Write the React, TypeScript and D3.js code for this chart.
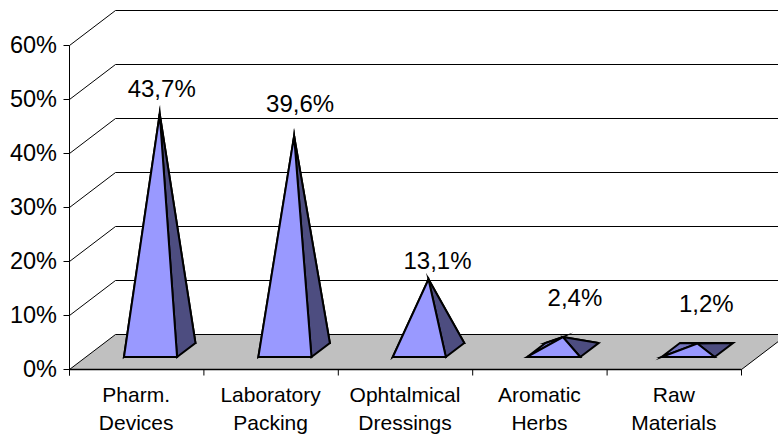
import React from "react";
import * as d3 from "d3";

const categories = [["Pharm.", "Devices"], ["Laboratory", "Packing"], ["Ophtalmical", "Dressings"], ["Aromatic", "Herbs"], ["Raw", "Materials"]];
const shares = [43.7, 39.6, 13.1, 2.4, 1.2];
const shareLabels = ["43,7%", "39,6%", "13,1%", "2,4%", "1,2%"];
const axisTicks = [0, 10, 20, 30, 40, 50, 60];

const W = 778, H = 438;
const DX = 46, DY = 35; // oblique projection of the chart depth
const x = d3.scaleBand<number>().domain(d3.range(categories.length)).range([69, 741]);
const y = d3.scaleLinear().domain([0, 60]).range([369, 45]);
const DEPTH_NEAR = 0.343, DEPTH_FAR = 0.743;
// Hand placement of the value labels relative to each apex
const LABEL_RISE = [27, 34, 20, 41, 42];
const LABEL_SHIFT = [0, 4, 7, 10, 7];

type P = [number, number];
const poly = (pts: P[]) => pts.map(p => p.join(",")).join(" ");
const project = (px: number, h: number, depth: number): P => [px + DX * depth, y(h) - DY * depth];

const LIGHT = "#9999ff", DARK = "#4d4d80", MID = "#7373bf";
const font = "'Liberation Sans', Arial, sans-serif";

function Pyramid({ i }: { i: number }) {
  const x0 = x(i)! + x.bandwidth() * 0.2916;
  const x1 = x0 + x.bandwidth() * 0.395;
  const fl = project(x0, 0, DEPTH_NEAR), fr = project(x1, 0, DEPTH_NEAR);
  const bl = project(x0, 0, DEPTH_FAR), br = project(x1, 0, DEPTH_FAR);
  const apex = project((x0 + x1) / 2, shares[i], (DEPTH_NEAR + DEPTH_FAR) / 2);
  const stroke = { stroke: "#000", strokeWidth: 2, strokeLinejoin: "miter" as const, strokeMiterlimit: 12 };
  return (
    <g>
      <polygon points={poly([bl, br, apex])} fill={DARK} {...stroke} />
      <polygon points={poly([fl, bl, apex])} fill={MID} {...stroke} />
      <polygon points={poly([fr, br, apex])} fill={DARK} {...stroke} />
      <polygon points={poly([fl, fr, apex])} fill={LIGHT} {...stroke} />
      <text x={apex[0] + 2 + LABEL_SHIFT[i]} y={apex[1] - LABEL_RISE[i] + 10} textAnchor="middle" fontSize={24} fill="#000">
        {shareLabels[i]}
      </text>
    </g>
  );
}

export default function App() {
  const [xl, xr] = x.range();
  return (
    <svg width={W} height={H} style={{ position: "absolute", left: 0, top: 0, background: "#fff", fontFamily: font }}>
      <g transform="translate(0.5,0.5)">
        {/* wall gridlines */}
        {axisTicks.filter(t => t > 0).map(t => (
          <polyline key={t} points={poly([[xl, y(t)], [xl + DX, y(t) - DY], [xr + DX, y(t) - DY]])} stroke="#000" strokeWidth={1} fill="none" />
        ))}
        {/* floor */}
        <polygon points={poly([[xl, y(0)], [xr, y(0)], [xr + DX, y(0) - DY], [xl + DX, y(0) - DY]])} fill="#c0c0c0" stroke="#000" strokeWidth={1} />
        {/* axes and ticks */}
        <line x1={xl} x2={xl} y1={y(60)} y2={y(0) + 6} stroke="#000" />
        <line x1={xl} x2={xr} y1={y(0)} y2={y(0)} stroke="#000" strokeWidth={1.5} />
        {axisTicks.map(t => (
          <line key={t} x1={xl - 6} x2={xl} y1={y(t)} y2={y(t)} stroke="#000" />
        ))}
        {d3.range(categories.length + 1).map(i => {
          const px = xl + x.step() * i;
          return <line key={i} x1={px} x2={px} y1={y(0)} y2={y(0) + 6} stroke="#000" />;
        })}
      </g>
      {axisTicks.map(t => (
        <text key={t} x={xl - 12} y={y(t) + 7.5} textAnchor="end" fontSize={23.5} fill="#000">{t}%</text>
      ))}
      {categories.map((lines, i) => (
        <text key={i} textAnchor="middle" fontSize={21} fill="#000">
          {lines.map((l, j) => (
            <tspan key={j} x={x(i)! + x.bandwidth() / 2} y={402 + j * 28}>{l}</tspan>
          ))}
        </text>
      ))}
      {shares.map((_, i) => <Pyramid key={i} i={i} />)}
    </svg>
  );
}
